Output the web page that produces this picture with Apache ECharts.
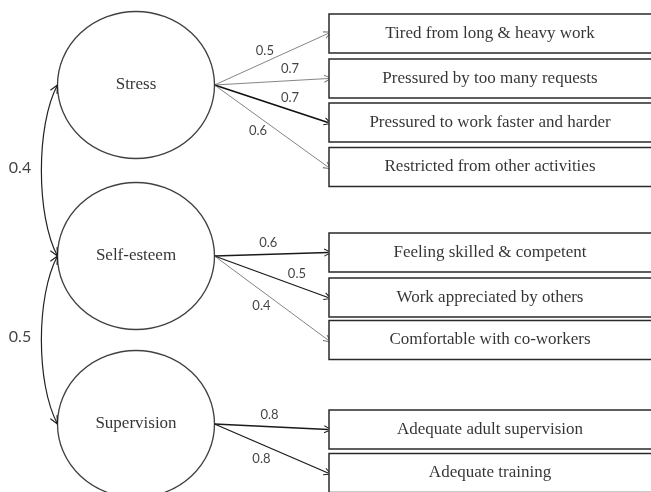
<!DOCTYPE html>
<html>
<head>
<meta charset="utf-8">
<style>
  html, body { margin: 0; padding: 0; background: #fff; }
  #chart { width: 651px; height: 492px; }
</style>
<script src="https://cdn.jsdelivr.net/npm/echarts@6/dist/echarts.min.js"></script>
</head>
<body>
<div id="chart"></div>
<script>
// data
const factors = ['Stress', 'Self-esteem', 'Supervision']
const indicators = [
  'Tired from long & heavy work',
  'Pressured by too many requests',
  'Pressured to work faster and harder',
  'Restricted from other activities',
  'Feeling skilled & competent',
  'Work appreciated by others',
  'Comfortable with co-workers',
  'Adequate adult supervision',
  'Adequate training'
]
const indicatorFactor = [0, 0, 0, 0, 1, 1, 1, 2, 2]
const loadings = [0.5, 0.7, 0.7, 0.6, 0.6, 0.5, 0.4, 0.8, 0.8]
const correlations = [0.4, 0.5] // Stress-Self-esteem, Self-esteem-Supervision

// layout (pixel units of the hidden axes)
const factorX = 136
const factorY = [85, 256, 424]
const factorSize = [157, 147]
const boxLeft = 329
const boxRight = 660
const boxH = 39
const boxTextX = 490
const boxY = [33.5, 78.5, 122.5, 167, 252.5, 297.5, 340, 429.5, 473]
const labelT = [0.44, 0.66, 0.66, 0.38, 0.47, 0.72, 0.41, 0.48, 0.41]
const labelBelow = [false, false, false, true, false, false, true, false, true]
const arcCtrlX = 36
const arcCtrlDy = 40

// styles
const thin = { color: '#777', width: 0.9, opacity: 1 }
const dark = { color: '#1a1a1a', width: 1.3, opacity: 1 }
const arrowStyle = [thin, thin, { color: '#111', width: 1.7, opacity: 1 }, thin, dark, dark, thin, dark, dark]
const chevron = 'path://M5,0 L10,10 L8.8,10.6 L5,2.4 L1.2,10.6 L0,10 Z'

const startX = factorX + factorSize[0] / 2
const leftX = factorX - factorSize[0] / 2

const arrows = indicators.map((name, i) => ({
  coords: [[startX, factorY[indicatorFactor[i]]], [boxLeft - 1, boxY[i]]],
  lineStyle: arrowStyle[i]
}))

const loadingLabels = loadings.map((v, i) => {
  const y0 = factorY[indicatorFactor[i]]
  const x = startX + labelT[i] * (boxLeft - startX)
  const y = y0 + labelT[i] * (boxY[i] - y0) + (labelBelow[i] ? 15 : -12)
  return { value: [x, y], label: { formatter: v.toFixed(1) } }
})

const corrLabels = correlations.map((v, i) => ({
  value: [20, (factorY[i] + factorY[i + 1]) / 2 - 3],
  label: { formatter: v.toFixed(1) }
}))

// open arrow head with its tip at p, pointing along (from -> p)
function head(p, from) {
  const dx = p[0] - from[0], dy = p[1] - from[1]
  const len = Math.hypot(dx, dy)
  const ux = dx / len, uy = dy / len
  const L = 8, W = 3.8
  return {
    type: 'polyline',
    shape: { points: [
      [p[0] - L * ux - W * uy, p[1] - L * uy + W * ux],
      p,
      [p[0] - L * ux + W * uy, p[1] - L * uy - W * ux]
    ] },
    style: { stroke: '#222', lineWidth: 1.2, fill: null }
  }
}

const chart = echarts.init(document.getElementById('chart'))
chart.setOption({
  animation: false,
  grid: { left: 0, right: 0, top: 0, bottom: 0 },
  xAxis: { type: 'value', min: 0, max: 651, show: false },
  yAxis: { type: 'value', min: 0, max: 492, inverse: true, show: false },
  series: [
    {
      type: 'lines',
      coordinateSystem: 'cartesian2d',
      symbol: ['none', chevron],
      symbolSize: 8,
      z: 1,
      data: arrows
    },
    {
      // correlation arcs between neighbouring factors
      type: 'custom',
      z: 1,
      clip: false,
      renderItem: (params, api) => {
        const p0 = api.coord([leftX, api.value(0)])
        const p3 = api.coord([leftX, api.value(1)])
        const c1 = api.coord([arcCtrlX, api.value(0) + arcCtrlDy])
        const c2 = api.coord([arcCtrlX, api.value(1) - arcCtrlDy])
        return {
          type: 'group',
          children: [
            {
              type: 'bezierCurve',
              shape: { x1: p0[0], y1: p0[1], x2: p3[0], y2: p3[1], cpx1: c1[0], cpy1: c1[1], cpx2: c2[0], cpy2: c2[1] },
              style: { stroke: '#222', lineWidth: 1.2, fill: null }
            },
            head(p0, c1),
            head(p3, c2)
          ]
        }
      },
      data: correlations.map((v, i) => [factorY[i], factorY[i + 1]])
    },
    {
      type: 'scatter',
      symbol: 'circle',
      symbolSize: factorSize,
      itemStyle: { color: '#fff', borderColor: '#111', borderWidth: 1.3 },
      label: {
        show: true, position: 'inside', formatter: p => p.name,
        fontFamily: 'Liberation Serif', fontSize: 17, color: '#000'
      },
      z: 3,
      data: factors.map((f, i) => ({ name: f, value: [factorX, factorY[i]] }))
    },
    {
      type: 'custom',
      z: 3,
      clip: false,
      renderItem: (params, api) => {
        const p0 = api.coord([boxLeft, api.value(1) - boxH / 2])
        const p1 = api.coord([boxRight, api.value(1) + boxH / 2])
        return {
          type: 'rect',
          shape: { x: p0[0], y: p0[1], width: p1[0] - p0[0], height: p1[1] - p0[1] },
          style: { fill: '#fff', stroke: '#2a2a2a', lineWidth: 1.5 }
        }
      },
      data: boxY.map(y => [boxLeft, y])
    },
    {
      type: 'scatter',
      symbolSize: 0,
      label: {
        show: true, position: 'inside', formatter: p => p.name,
        fontFamily: 'Liberation Serif', fontSize: 17, color: '#000'
      },
      z: 4,
      data: indicators.map((n, i) => ({ name: n, value: [boxTextX, boxY[i]] }))
    },
    {
      type: 'scatter',
      symbolSize: 0,
      label: { show: true, position: 'inside', fontFamily: 'Lato', fontSize: 13, color: '#111' },
      z: 4,
      data: loadingLabels
    },
    {
      type: 'scatter',
      symbolSize: 0,
      label: { show: true, position: 'inside', fontFamily: 'Lato', fontSize: 16, color: '#111' },
      z: 4,
      data: corrLabels
    }
  ]
})
</script>
</body>
</html>
